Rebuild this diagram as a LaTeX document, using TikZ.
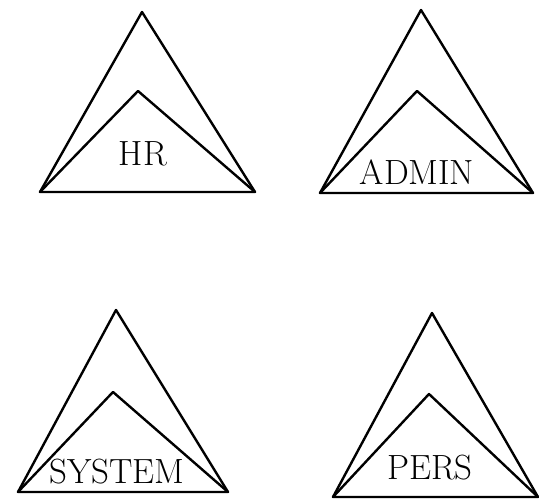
\documentclass[tikz,border=0pt]{standalone}
\usepackage{fontspec}
\begin{document}
\begin{tikzpicture}[x=1pt,y=-1pt,
  tri/.style={draw=black,line width=2.4pt,line join=round},
  lbl/.style={font=\fontsize{35}{40}\selectfont,inner sep=0pt}]
\useasboundingbox (0,0) rectangle (539,500);
% HR
\coordinate (a1) at (142,12); \coordinate (l1) at (40,192); \coordinate (r1) at (255,192); \coordinate (i1) at (138,91);
\draw[tri] (l1) -- (a1) -- (r1) -- cycle;
\draw[tri] (l1) -- (i1) -- (r1);
\node[lbl] (hr) at (143,154) {HR};
% ADMIN
\coordinate (a2) at (421,10); \coordinate (l2) at (320,193); \coordinate (r2) at (533,193); \coordinate (i2) at (417,91);
\draw[tri] (l2) -- (a2) -- (r2) -- cycle;
\draw[tri] (l2) -- (i2) -- (r2);
\node[lbl] (admin) at (417,172) {ADMIN};
% SYSTEM
\coordinate (a3) at (116,310); \coordinate (l3) at (18,492); \coordinate (r3) at (228,492); \coordinate (i3) at (113,392);
\draw[tri] (l3) -- (a3) -- (r3) -- cycle;
\draw[tri] (l3) -- (i3) -- (r3);
\node[lbl] (system) at (117,472) {SYSTEM};
% PERS
\coordinate (a4) at (432,313); \coordinate (l4) at (333,497); \coordinate (r4) at (538,497); \coordinate (i4) at (429,394);
\draw[tri] (l4) -- (a4) -- (r4) -- cycle;
\draw[tri] (l4) -- (i4) -- (r4);
\node[lbl] (pers) at (430,468) {PERS};
\end{tikzpicture}
\end{document}
